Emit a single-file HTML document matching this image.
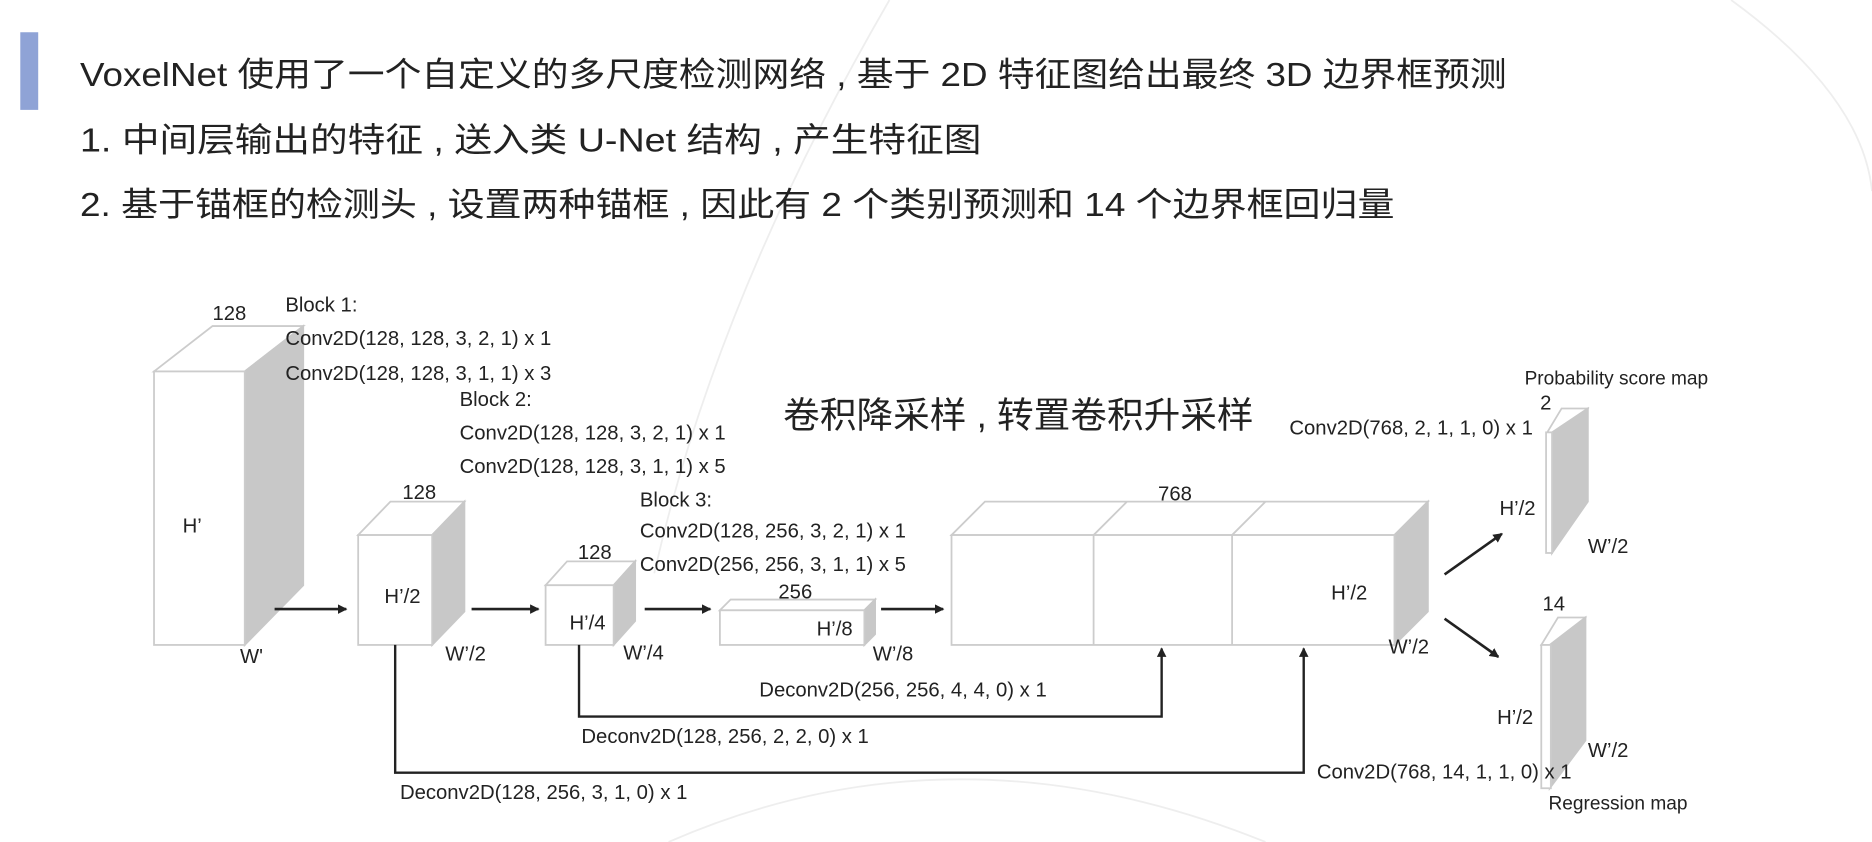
<!DOCTYPE html>
<html><head><meta charset="utf-8"><style>
html,body{margin:0;padding:0;background:#fff;}
svg{display:block;}
.t{font-family:"Liberation Sans","Noto Sans CJK SC",sans-serif;fill:#222;}
.d{font-family:"Liberation Sans",sans-serif;font-size:17px;fill:#222;}
</style></head><body>
<svg width="1872" height="842" viewBox="0 0 1568 705" preserveAspectRatio="none" xmlns="http://www.w3.org/2000/svg">
<defs><marker id="a" markerWidth="8" markerHeight="8" refX="7" refY="4" orient="auto" markerUnits="userSpaceOnUse"><path d="M0,0 L8,4 L0,8 z" fill="#222"/></marker>
<marker id="s" markerWidth="8" markerHeight="10" refX="7" refY="5" orient="auto" markerUnits="userSpaceOnUse"><path d="M0,1 L8,5 L0,9 z" fill="#222"/></marker></defs>
<rect width="1568" height="705" fill="#fff"/>
<path d="M745,0 Q600,250 548,480" stroke="#eee" stroke-width="1.5" fill="none"/>
<path d="M1450,0 Q1560,80 1568,160" stroke="#eee" stroke-width="1.5" fill="none"/>
<path d="M560,705 Q800,600 1060,705" stroke="#eee" stroke-width="1.5" fill="none"/>
<rect x="17" y="27" width="15" height="65" fill="#8fa3d6"/>
<text class="t" x="67" y="72" font-size="28" textLength="1195" lengthAdjust="spacingAndGlyphs">VoxelNet 使用了一个自定义的多尺度检测网络 , 基于 2D 特征图给出最终 3D 边界框预测</text>
<text class="t" x="67" y="127" font-size="28" textLength="755" lengthAdjust="spacingAndGlyphs">1.  中间层输出的特征 , 送入类 U-Net 结构 , 产生特征图</text>
<text class="t" x="67" y="181" font-size="28" textLength="1101" lengthAdjust="spacingAndGlyphs">2.  基于锚框的检测头 , 设置两种锚框 , 因此有 2 个类别预测和 14 个边界框回归量</text>

<g stroke="#ccc" stroke-width="1.5" fill="#fff">
<path d="M129,311 L178,273 L254,273 L205,311 Z"/>
<path d="M205,311 L254,273 L254,490 L205,540 Z" fill="#c8c8c8" stroke="#c8c8c8"/>
<rect x="129" y="311" width="76" height="229"/>
<path d="M300,448 L327,420 L389,420 L362,448 Z"/>
<path d="M362,448 L389,420 L389,512 L362,540 Z" fill="#c8c8c8" stroke="#c8c8c8"/>
<rect x="300" y="448" width="62" height="92"/>
<path d="M457,490 L475,470 L532,470 L514,490 Z"/>
<path d="M514,490 L532,470 L532,520 L514,540 Z" fill="#c8c8c8" stroke="#c8c8c8"/>
<rect x="457" y="490" width="57" height="50"/>
<path d="M603,511 L612,502 L733,502 L724,511 Z"/>
<path d="M724,511 L733,502 L733,531 L724,540 Z" fill="#c8c8c8" stroke="#c8c8c8"/>
<rect x="603" y="511" width="121" height="29"/>
<path d="M797,448 L825,420 L1196,420 L1168,448 Z"/>
<path d="M944,420 L916,448 M1060,420 L1032,448" fill="none"/>
<path d="M1168,448 L1196,420 L1196,512 L1168,540 Z" fill="#c8c8c8" stroke="#c8c8c8"/>
<rect x="797" y="448" width="371" height="92"/>
<path d="M916,448 V540 M1032,448 V540" fill="none"/>
<path d="M1296,362 L1308,342 L1330,342 L1318,362 Z"/>
<path d="M1300,362 L1330,342 L1330,420 L1300,463 Z" fill="#c8c8c8" stroke="#c8c8c8"/>
<rect x="1295" y="362" width="5" height="101"/>
<path d="M1291,540 L1305,517 L1328,517 L1313,540 Z"/>
<path d="M1298,540 L1328,517 L1328,620 L1298,660 Z" fill="#c8c8c8" stroke="#c8c8c8"/>
<rect x="1291" y="540" width="8" height="120"/>
</g>

<g stroke="#222" stroke-width="2.2" fill="none">
<line x1="230" y1="510" x2="290" y2="510" marker-end="url(#a)"/>
<line x1="395" y1="510" x2="451" y2="510" marker-end="url(#a)"/>
<line x1="540" y1="510" x2="595" y2="510" marker-end="url(#a)"/>
<line x1="738" y1="510" x2="790" y2="510" marker-end="url(#a)"/>
<polyline points="331,540 331,647 1092,647 1092,543" marker-end="url(#s)" stroke-width="2"/>
<polyline points="485,540 485,600 973,600 973,543" marker-end="url(#s)" stroke-width="2"/>
<line x1="1210" y1="481" x2="1258" y2="447" marker-end="url(#a)"/>
<line x1="1210" y1="518" x2="1255" y2="550" marker-end="url(#a)"/>
</g>

<g class="d">
<text x="178" y="268">128</text>
<text x="239" y="261">Block 1:</text>
<text x="239" y="289">Conv2D(128, 128, 3, 2, 1) x 1</text>
<text x="239" y="318">Conv2D(128, 128, 3, 1, 1) x 3</text>
<text x="385" y="340">Block 2:</text>
<text x="385" y="368">Conv2D(128, 128, 3, 2, 1) x 1</text>
<text x="385" y="396">Conv2D(128, 128, 3, 1, 1) x 5</text>
<text x="536" y="424">Block 3:</text>
<text x="536" y="450">Conv2D(128, 256, 3, 2, 1) x 1</text>
<text x="536" y="478">Conv2D(256, 256, 3, 1, 1) x 5</text>
<text x="153" y="446">H’</text>
<text x="201" y="555">W'</text>
<text x="337" y="418">128</text>
<text x="322" y="505">H’/2</text>
<text x="373" y="553">W’/2</text>
<text x="484" y="468">128</text>
<text x="477" y="527">H’/4</text>
<text x="522" y="552">W’/4</text>
<text x="652" y="501">256</text>
<text x="684" y="532">H’/8</text>
<text x="731" y="553">W’/8</text>
<text x="970" y="419">768</text>
<text x="1115" y="502">H’/2</text>
<text x="1163" y="547">W’/2</text>
<text x="636" y="583">Deconv2D(256, 256, 4, 4, 0) x 1</text>
<text x="487" y="622">Deconv2D(128, 256, 2, 2, 0) x 1</text>
<text x="335" y="669">Deconv2D(128, 256, 3, 1, 0) x 1</text>
<text x="1080" y="364">Conv2D(768, 2, 1, 1, 0) x 1</text>
<text x="1277" y="322" font-size="16">Probability score map</text>
<text x="1290" y="343">2</text>
<text x="1256" y="431">H’/2</text>
<text x="1330" y="463">W’/2</text>
<text x="1292" y="511">14</text>
<text x="1254" y="606">H’/2</text>
<text x="1330" y="634">W’/2</text>
<text x="1103" y="652">Conv2D(768, 14, 1, 1, 0) x 1</text>
<text x="1297" y="678" font-size="16">Regression map</text>
</g>
<text class="t" x="656" y="358" font-size="30" textLength="394" lengthAdjust="spacingAndGlyphs">卷积降采样 , 转置卷积升采样</text>
</svg>
</body></html>
